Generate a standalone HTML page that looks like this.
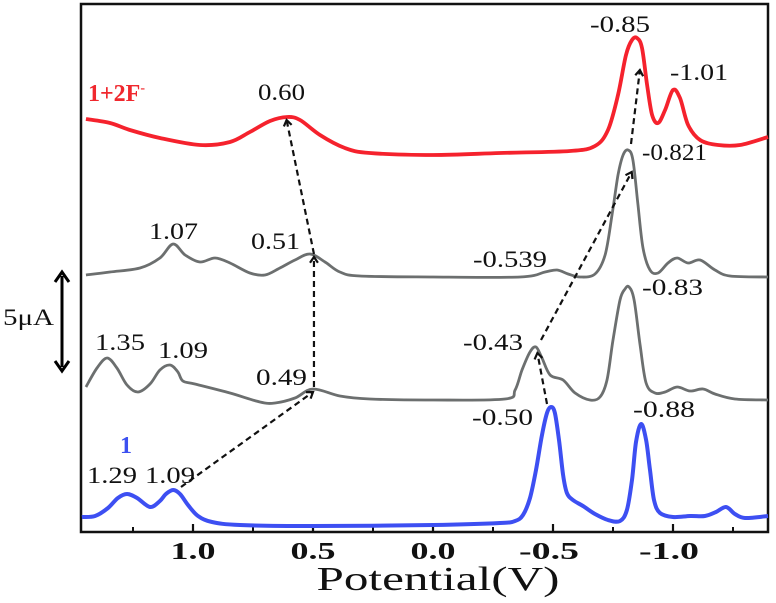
<!DOCTYPE html>
<html><head><meta charset="utf-8"><style>
html,body{margin:0;padding:0;background:#fff;}
svg{display:block;}
</style></head><body>
<svg id="chart" width="776" height="603" viewBox="0 0 776 603" xmlns="http://www.w3.org/2000/svg">
  <rect x="81" y="4" width="687" height="528" fill="none" stroke="#111" stroke-width="2.5"/>
  <g id="ticks"></g>
  <g id="ticklabels" font-family="Liberation Serif, serif" font-weight="bold" font-size="24" fill="#111" text-anchor="middle"></g>
  <text x="438" y="590" font-family="Liberation Serif, serif" font-size="34" fill="#111" text-anchor="middle" textLength="243" lengthAdjust="spacingAndGlyphs">Potential(V)</text>
  <g id="series"></g>
  <g id="arrows"></g>
  <g font-family="Liberation Serif, serif" font-size="23" fill="#111">
    <text x="258" y="100" textLength="47" lengthAdjust="spacingAndGlyphs">0.60</text>
    <text x="590" y="32" textLength="60" lengthAdjust="spacingAndGlyphs">-0.85</text>
    <text x="670" y="80" textLength="58" lengthAdjust="spacingAndGlyphs">-1.01</text>
    <text x="642" y="160" textLength="65" lengthAdjust="spacingAndGlyphs">-0.821</text>
    <text x="149" y="239" textLength="49" lengthAdjust="spacingAndGlyphs">1.07</text>
    <text x="251" y="249" textLength="49" lengthAdjust="spacingAndGlyphs">0.51</text>
    <text x="473" y="267" textLength="74" lengthAdjust="spacingAndGlyphs">-0.539</text>
    <text x="642" y="295" textLength="61" lengthAdjust="spacingAndGlyphs">-0.83</text>
    <text x="95" y="350" textLength="50" lengthAdjust="spacingAndGlyphs">1.35</text>
    <text x="158" y="358" textLength="50" lengthAdjust="spacingAndGlyphs">1.09</text>
    <text x="463" y="350" textLength="60" lengthAdjust="spacingAndGlyphs">-0.43</text>
    <text x="256" y="385" textLength="51" lengthAdjust="spacingAndGlyphs">0.49</text>
    <text x="472" y="425" textLength="61" lengthAdjust="spacingAndGlyphs">-0.50</text>
    <text x="633" y="417" textLength="62" lengthAdjust="spacingAndGlyphs">-0.88</text>
    <text x="87" y="483" textLength="50" lengthAdjust="spacingAndGlyphs">1.29</text>
    <text x="145" y="483" textLength="50" lengthAdjust="spacingAndGlyphs">1.09</text>
    <text x="3" y="325" textLength="51" lengthAdjust="spacingAndGlyphs">5μA</text>
  </g>
  <text x="88" y="101" font-family="Liberation Serif, serif" font-weight="bold" font-size="24" fill="#f0282e">1+2F<tspan font-size="14" dy="-9">-</tspan></text>
  <text x="120" y="453" font-family="Liberation Serif, serif" font-weight="bold" font-size="24" fill="#3c50f0">1</text>
  <g stroke="#000" stroke-width="3" fill="none">
    <line x1="62" y1="276" x2="62" y2="367"/>
    <polyline points="55,282 62,272 69,282"/>
    <polyline points="55,361 62,371 69,361"/>
  </g>
</svg>
<script>
const tickMajor = [1.0, 0.5, 0.0, -0.5, -1.0];
const tickMinor = [1.25, 0.75, 0.25, -0.25, -0.75, -1.25];
const tickLabels = ["1.0", "0.5", "0.0", "-0.5", "-1.0"];

const bluePot = [1.463,1.408,1.354,1.313,1.275,1.233,1.179,1.138,1.113,1.083,1.054,1.021,0.979,0.921,0.804,0.50,0.0,-0.279,-0.342,-0.375,-0.404,-0.429,-0.454,-0.475,-0.492,-0.508,-0.525,-0.542,-0.558,-0.583,-0.625,-0.675,-0.729,-0.779,-0.808,-0.829,-0.846,-0.867,-0.888,-0.904,-0.921,-0.946,-1.0,-1.071,-1.133,-1.179,-1.221,-1.258,-1.300,-1.396];
const blueCur = [0.75,0.80,1.20,1.70,1.90,1.70,1.25,1.55,1.90,2.10,1.90,1.35,0.80,0.50,0.35,0.30,0.35,0.45,0.55,0.85,1.70,3.10,4.85,5.95,6.25,5.95,4.60,2.85,1.95,1.60,1.30,0.90,0.60,0.55,1.10,2.60,4.50,5.40,4.60,3.10,1.60,0.95,0.75,0.80,0.80,1.00,1.25,0.90,0.70,0.80];

const midPot = [1.446,1.400,1.358,1.317,1.275,1.229,1.179,1.138,1.096,1.063,1.042,0.992,0.846,0.721,0.658,0.575,0.500,0.388,0.263,0.0,-0.300,-0.342,-0.371,-0.404,-0.429,-0.454,-0.488,-0.542,-0.592,-0.654,-0.696,-0.725,-0.750,-0.779,-0.800,-0.817,-0.838,-0.863,-0.888,-0.925,-0.967,-1.017,-1.071,-1.125,-1.175,-1.258,-1.396];
const midCur = [7.25,8.20,8.70,8.20,7.35,7.00,7.40,8.10,8.35,8.00,7.55,7.40,6.95,6.50,6.45,6.70,7.15,6.80,6.65,6.60,6.65,7.10,8.10,9.00,9.25,8.70,7.85,7.60,6.95,6.60,6.75,7.60,9.60,11.60,12.15,12.25,11.60,9.35,7.45,6.95,7.00,7.25,7.05,7.15,6.90,6.65,6.60];

const upPot = [1.446,1.346,1.221,1.138,1.083,1.033,0.971,0.908,0.846,0.763,0.700,0.638,0.575,0.513,0.450,0.388,0.304,0.0,-0.363,-0.467,-0.517,-0.563,-0.613,-0.675,-0.717,-0.746,-0.771,-0.792,-0.813,-0.833,-0.854,-0.875,-0.904,-0.938,-0.979,-1.017,-1.063,-1.113,-1.175,-1.238,-1.396];
const upCur = [12.85,13.00,13.20,13.70,14.40,13.85,13.50,13.70,13.45,12.95,12.85,13.20,13.60,13.90,13.50,13.00,12.80,12.75,12.75,13.00,13.10,12.90,12.75,12.90,13.85,15.85,17.85,18.85,19.10,18.60,16.35,14.20,13.10,12.95,13.45,13.70,13.45,13.60,13.10,12.80,12.75];

const redPot = [1.446,1.346,1.263,1.138,0.971,0.846,0.763,0.679,0.608,0.554,0.471,0.367,0.263,0.0,-0.279,-0.571,-0.675,-0.729,-0.771,-0.804,-0.829,-0.850,-0.871,-0.892,-0.913,-0.938,-0.967,-1.000,-1.029,-1.063,-1.113,-1.188,-1.279,-1.396];
const redCur = [20.65,20.45,20.10,19.70,19.35,19.50,20.00,20.55,20.75,20.60,19.85,19.20,18.95,18.85,18.95,19.05,19.30,20.10,21.85,23.85,24.60,24.70,24.20,22.35,20.85,20.45,21.10,22.10,21.70,20.35,19.60,19.35,19.35,19.75];

const arrowFrom = [[1.05,2.25],[0.496,7.25],[0.496,13.9],[-0.475,6.4],[-0.45,9.6],[-0.825,19.4]];
const arrowTo   = [[0.50,7.0],[0.496,13.75],[0.61,20.6],[-0.435,8.95],[-0.828,18.0],[-0.862,23.1]];

const X = v => 433 - 240 * v;
const Y = c => 532 - 20 * c;
const NS = "http://www.w3.org/2000/svg";

const tg = document.getElementById('ticks');
tickMajor.forEach((v, i) => {
  const l = document.createElementNS(NS, 'line');
  l.setAttribute('x1', X(v)); l.setAttribute('x2', X(v));
  l.setAttribute('y1', 532); l.setAttribute('y2', 524);
  l.setAttribute('stroke', '#111'); l.setAttribute('stroke-width', '2.2');
  
  
  tg.appendChild(l);
  const t = document.createElementNS(NS, 'text');
  t.setAttribute('x', X(v) + (v < 0 ? -4 : 0)); t.setAttribute('y', 559);
  t.setAttribute('textLength', v < 0 ? 60 : 45);
  t.setAttribute('lengthAdjust', 'spacingAndGlyphs');
  t.textContent = tickLabels[i];
  
  
  document.getElementById('ticklabels').appendChild(t);
});
tickMinor.forEach(v => {
  const l = document.createElementNS(NS, 'line');
  l.setAttribute('x1', X(v)); l.setAttribute('x2', X(v));
  l.setAttribute('y1', 532); l.setAttribute('y2', 527);
  l.setAttribute('stroke', '#111'); l.setAttribute('stroke-width', '2');
  
  
  tg.appendChild(l);
});

function smoothPath(pots, curs) {
  const p = pots.map((v, i) => [X(v), Y(curs[i])]);
  let d = 'M' + p[0][0] + ',' + p[0][1];
  for (let i = 0; i < p.length - 1; i++) {
    const p0 = p[Math.max(0, i - 1)], p1 = p[i], p2 = p[i + 1], p3 = p[Math.min(p.length - 1, i + 2)];
    const c1x = p1[0] + (p2[0] - p0[0]) / 6, c1y = p1[1] + (p2[1] - p0[1]) / 6;
    const c2x = p2[0] - (p3[0] - p1[0]) / 6, c2y = p2[1] - (p3[1] - p1[1]) / 6;
    d += ' C' + c1x.toFixed(1) + ',' + c1y.toFixed(1) + ' ' + c2x.toFixed(1) + ',' + c2y.toFixed(1) + ' ' + p2[0].toFixed(1) + ',' + p2[1].toFixed(1);
  }
  return d;
}
const sg = document.getElementById('series');
function addSeries(pots, curs, color, w, name) {
  const path = document.createElementNS(NS, 'path');
  path.setAttribute('d', smoothPath(pots, curs));
  path.setAttribute('fill', 'none');
  path.setAttribute('stroke', color);
  path.setAttribute('stroke-width', w);
  path.setAttribute('stroke-linejoin', 'round');
  
  
  sg.appendChild(path);
}
addSeries(redPot, redCur, '#f5222d', 3.8, 'series-1-plus-2F');
addSeries(upPot, upCur, '#6c6f6f', 2.8, 'series-upper-gray');
addSeries(midPot, midCur, '#6c6f6f', 2.8, 'series-middle-gray');
addSeries(bluePot, blueCur, '#3d4ff2', 4, 'series-1');

const ag = document.getElementById('arrows');
arrowFrom.forEach((f, i) => {
  const t = arrowTo[i];
  const x1 = X(f[0]), y1 = Y(f[1]), x2 = X(t[0]), y2 = Y(t[1]);
  const l = document.createElementNS(NS, 'line');
  l.setAttribute('x1', x1); l.setAttribute('y1', y1);
  l.setAttribute('x2', x2); l.setAttribute('y2', y2);
  l.setAttribute('stroke', '#111'); l.setAttribute('stroke-width', '2.2');
  l.setAttribute('stroke-dasharray', '6,4');
  
  
  ag.appendChild(l);
  const ang = Math.atan2(y2 - y1, x2 - x1);
  const s = 7;
  const ax = x2 - s * Math.cos(ang - 0.6), ay = y2 - s * Math.sin(ang - 0.6);
  const bx = x2 - s * Math.cos(ang + 0.6), by = y2 - s * Math.sin(ang + 0.6);
  const h = document.createElementNS(NS, 'polyline');
  h.setAttribute('points', ax + ',' + ay + ' ' + x2 + ',' + y2 + ' ' + bx + ',' + by);
  h.setAttribute('fill', 'none'); h.setAttribute('stroke', '#111'); h.setAttribute('stroke-width', '2.2');
  
  
  ag.appendChild(h);
});
</script>
</body></html>
